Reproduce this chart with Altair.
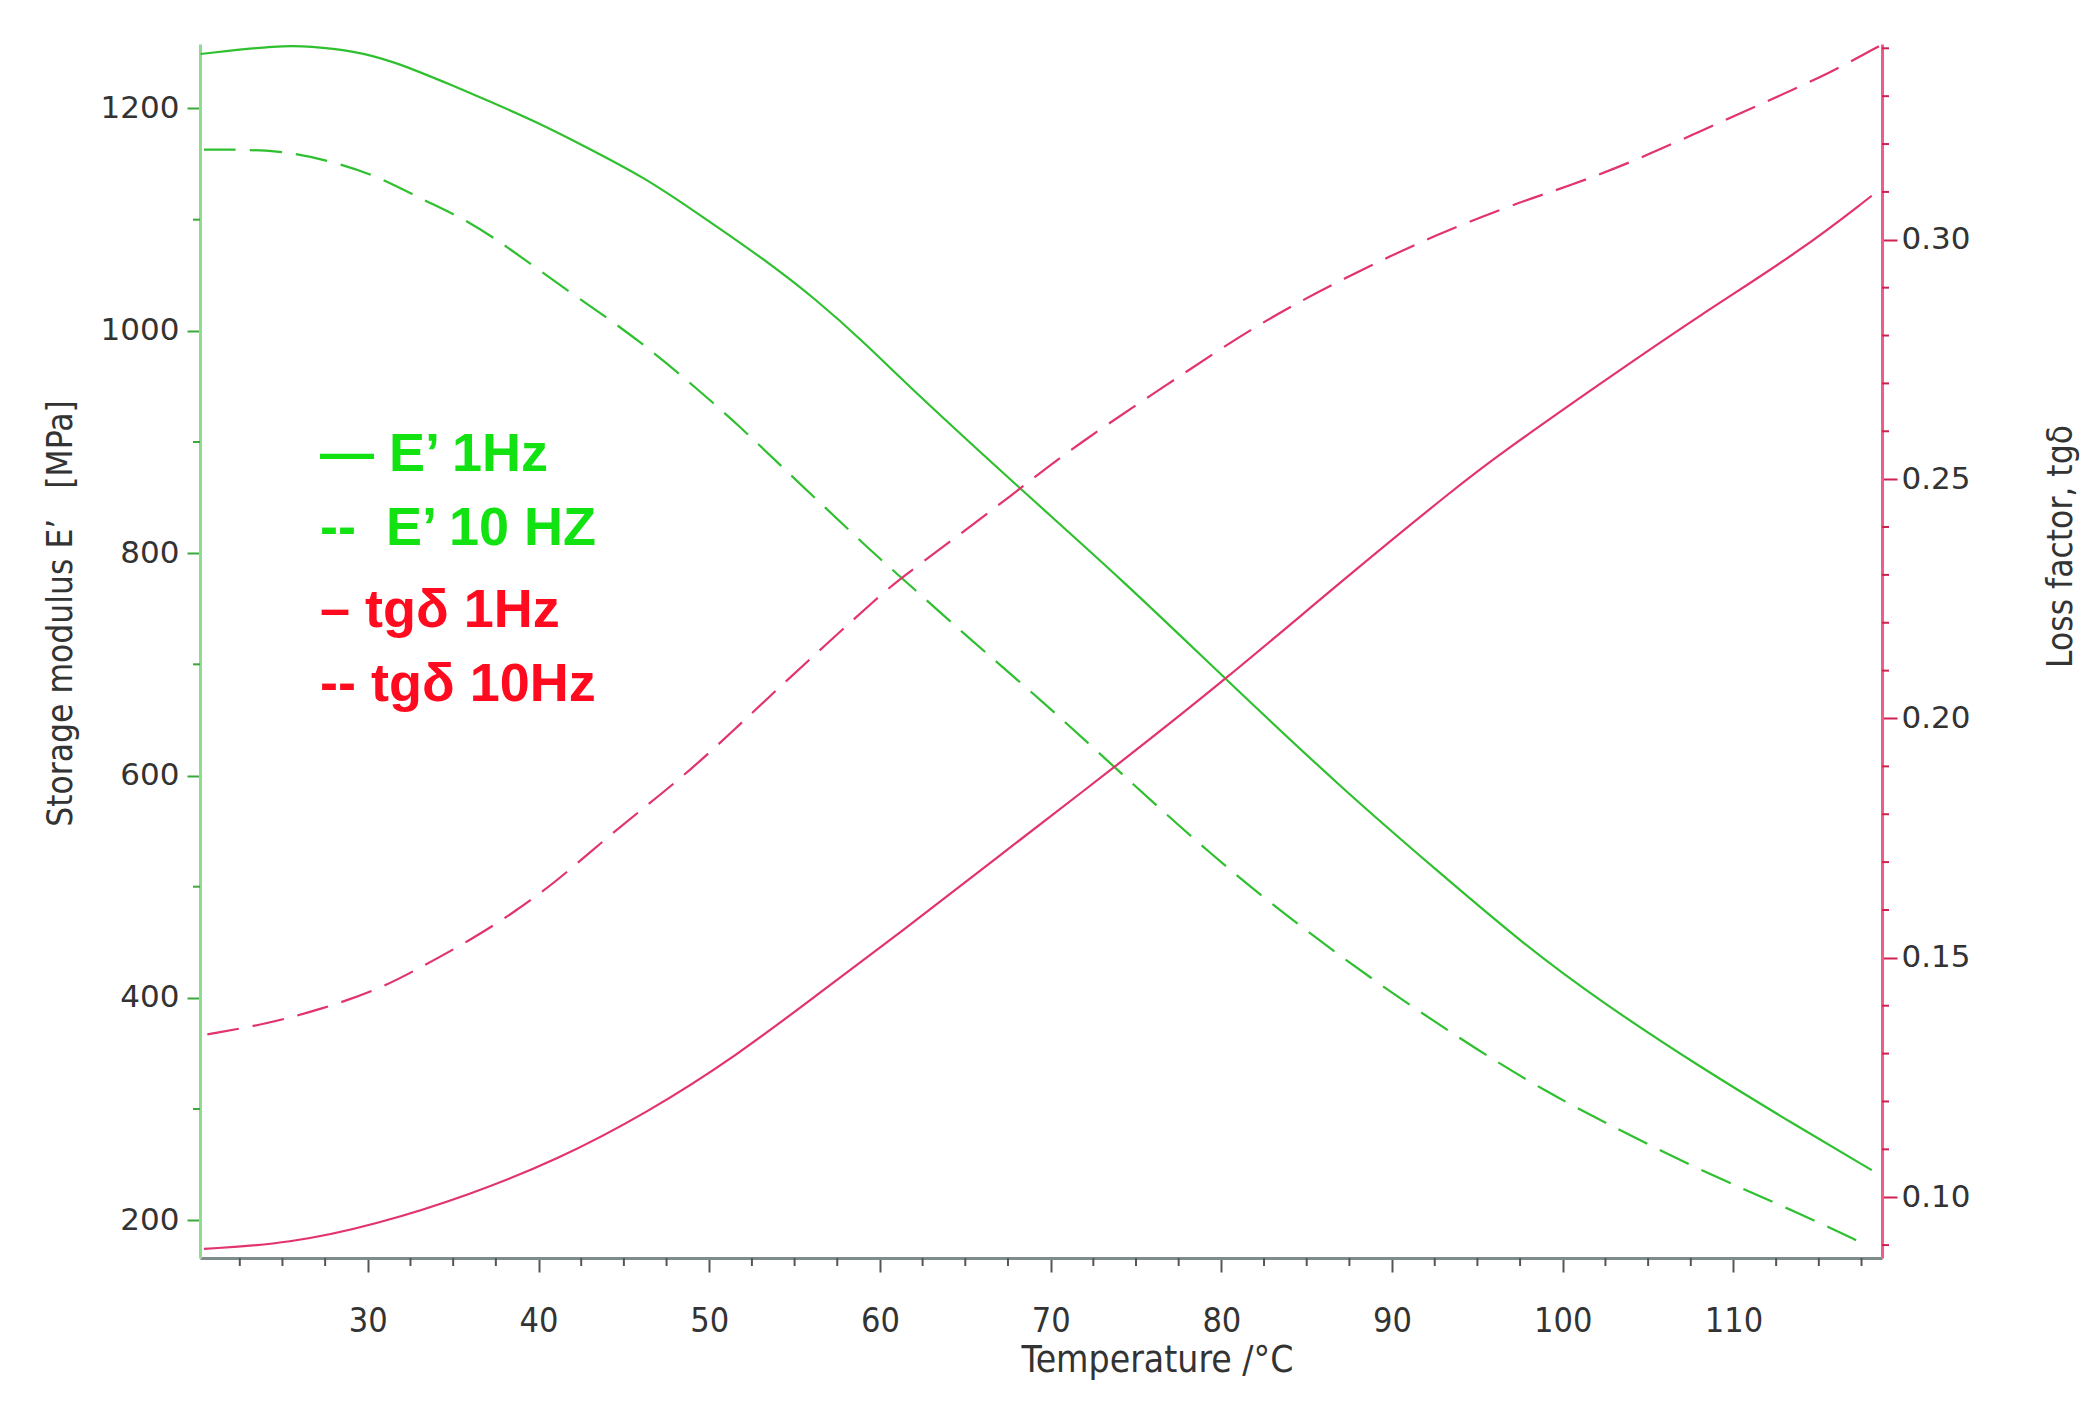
import altair as alt
import pandas as pd

# ---- data ----
e1_temp = [20.2, 24.9, 26.6, 29.1, 31.4, 34.3, 37.2, 40.0, 42.7, 46.3, 48.9, 52.9, 56.3, 59.4,
           61.2, 68.2, 74.2, 80.3, 87.3, 92.6, 97.8, 102.2, 108.0, 113.9, 118.1]
e1_val = [1249, 1257, 1256, 1252, 1243, 1225, 1206, 1187, 1166, 1137, 1110, 1068, 1028, 985,
          957, 858, 776, 686, 585, 515, 447, 397, 338, 283, 245]

e10_temp = [20.4, 24.9, 28.0, 30.6, 33.2, 35.9, 38.5, 41.6, 44.2, 46.8, 49.2, 51.8, 54.1, 56.8,
            59.4, 61.7, 65.1, 69.8, 73.7, 79.5, 84.7, 89.9, 95.2, 99.1, 102.2, 108.0, 113.9, 117.6]
e10_val = [1163, 1163, 1152, 1139, 1118, 1099, 1072, 1037, 1010, 980, 949, 914, 880, 841,
           803, 772, 725, 663, 608, 527, 463, 405, 351, 315, 290, 245, 206, 179]

t1_temp = [20.4, 25.4, 30.6, 35.9, 41.1, 46.3, 51.6, 56.8, 61.2, 66.4, 73.7, 80.3, 87.3, 93.9,
           96.3, 102.2, 108.0, 113.9, 118.1]
t1_val = [0.0892, 0.0903, 0.0944, 0.1004, 0.1078, 0.1175, 0.1295, 0.1436, 0.1553, 0.1697,
          0.1897, 0.2083, 0.2295, 0.2487, 0.2552, 0.2700, 0.2842, 0.2976, 0.3092]

t10_temp = [20.6, 24.1, 27.2, 30.6, 33.2, 35.9, 38.5, 41.1, 43.7, 46.3, 48.9, 51.6, 54.1, 60.4,
            61.7, 66.4, 68.2, 71.6, 76.9, 82.1, 87.3, 92.6, 97.8, 100.2, 104.1, 108.0, 111.9,
            115.8, 118.6]
t10_val = [0.1340, 0.1362, 0.1392, 0.1433, 0.1482, 0.1535, 0.1593, 0.1661, 0.1742, 0.1817,
           0.1892, 0.1981, 0.2065, 0.2271, 0.2305, 0.2431, 0.2480, 0.2574, 0.2699, 0.2824,
           0.2922, 0.3012, 0.3083, 0.3110, 0.3163, 0.3226, 0.3288, 0.3351, 0.3406]

NB = "\u00a0"
legend_labels = ["— E’ 1Hz", "--" + NB * 2 + "E’ 10 HZ", "–" + NB + "tgδ 1Hz", "-- tgδ 10Hz"]
legend_kind = ["E", "E", "tg", "tg"]

x_major = [30, 40, 50, 60, 70, 80, 90, 100, 110]
x_minor = [22.5, 25, 27.5, 32.5, 35, 37.5, 42.5, 45, 47.5, 52.5, 55, 57.5, 62.5, 65, 67.5,
           72.5, 75, 77.5, 82.5, 85, 87.5, 92.5, 95, 97.5, 102.5, 105, 107.5, 112.5, 115, 117.5]
e_major = [200, 400, 600, 800, 1000, 1200]
e_minor = [300, 500, 700, 900, 1100]
t_major = [0.10, 0.15, 0.20, 0.25, 0.30]
t_minor = [0.09, 0.11, 0.12, 0.13, 0.14, 0.16, 0.17, 0.18, 0.19, 0.21, 0.22, 0.23, 0.24,
           0.26, 0.27, 0.28, 0.29, 0.31, 0.32, 0.33, 0.34]

# ---- styling ----
W, H = 1682, 1214
X_DOM = [20.17, 118.7]
E_DOM = [166, 1258]
T_DOM = [0.0873, 0.3409]
GREEN_LINE = "#2fc02f"
RED_LINE = "#e2336c"
GREEN_TXT = "#12e212"
RED_TXT = "#ff0a1e"
DASH = [32, 14]
INTERP = "basis"
LBL_FONT = "DejaVu Sans"
COND_FONT = "DejaVu Sans Condensed"

df_e1 = pd.DataFrame({"T": e1_temp, "E": e1_val})
df_e10 = pd.DataFrame({"T": e10_temp, "E": e10_val})
df_t1 = pd.DataFrame({"T": t1_temp, "tg": t1_val})
df_t10 = pd.DataFrame({"T": t10_temp, "tg": t10_val})
df_leg = pd.DataFrame({
    "label": legend_labels,
    "kind": legend_kind,
    "T": [27.2] * 4,
    "E": [874, 807, 734, 667],
})
df_xminor = pd.DataFrame({"T": x_minor})
df_eminor = pd.DataFrame({"E": e_minor})
df_tminor = pd.DataFrame({"tg": t_minor})

x_scale = alt.Scale(domain=X_DOM, nice=False, zero=False)
e_scale = alt.Scale(domain=E_DOM, nice=False, zero=False)
t_scale = alt.Scale(domain=T_DOM, nice=False, zero=False)

x_axis = alt.Axis(
    values=x_major,
    format="d",
    tickSize=14,
    tickColor="#555555",
    tickWidth=2,
    domainColor="#7f8c8c",
    domainWidth=3,
    labelFont=COND_FONT,
    labelFontSize=34,
    labelColor="#333333",
    labelPadding=32,
    title="Temperature /°C",
    titleFont=COND_FONT,
    titleFontSize=37,
    titleFontWeight="normal",
    titleColor="#333333",
    titleX=957,
    titleY=102,
    titleAlign="center",
    titleBaseline="middle",
    grid=False,
)

e_axis = alt.Axis(
    values=e_major,
    format="d",
    tickSize=13,
    tickColor="#3aa83a",
    tickWidth=2,
    domainColor="#8fdc8f",
    domainWidth=3,
    labelFont=LBL_FONT,
    labelFontSize=31,
    labelColor="#333333",
    labelPadding=8,
    title="Storage modulus E’" + NB * 3 + "[MPa]",
    titleFont=COND_FONT,
    titleFontSize=35,
    titleFontWeight="normal",
    titleColor="#333333",
    titleAngle=270,
    titleX=-140,
    titleY=569,
    titleAlign="center",
    titleBaseline="middle",
    grid=False,
)

t_axis = alt.Axis(
    orient="right",
    values=t_major,
    format=".2f",
    tickSize=15,
    tickColor="#d0204f",
    tickWidth=2,
    domainColor="#ee5c8c",
    domainWidth=3,
    labelFont=LBL_FONT,
    labelFontSize=31,
    labelColor="#333333",
    labelPadding=4,
    title="Loss factor, tgδ",
    titleFont=COND_FONT,
    titleFontSize=35,
    titleFontWeight="normal",
    titleColor="#333333",
    titleAngle=270,
    titleX=178,
    titleY=502,
    titleAlign="center",
    titleBaseline="middle",
    grid=False,
)

e1 = alt.Chart(df_e1).mark_line(color=GREEN_LINE, strokeWidth=2.2, interpolate=INTERP).encode(
    x=alt.X("T:Q", scale=x_scale, axis=x_axis),
    y=alt.Y("E:Q", scale=e_scale, axis=e_axis),
)
e10 = alt.Chart(df_e10).mark_line(color=GREEN_LINE, strokeWidth=2.2, strokeDash=DASH,
                                  interpolate=INTERP).encode(
    x=alt.X("T:Q", scale=x_scale),
    y=alt.Y("E:Q", scale=e_scale),
)
legend = alt.Chart(df_leg).mark_text(
    align="left", baseline="alphabetic", font="Liberation Sans", fontSize=54, fontWeight="bold"
).encode(
    x=alt.X("T:Q", scale=x_scale),
    y=alt.Y("E:Q", scale=e_scale),
    text="label:N",
    color=alt.Color("kind:N", scale=alt.Scale(domain=["E", "tg"], range=[GREEN_TXT, RED_TXT]),
                    legend=None),
)
e_minor_ticks = alt.Chart(df_eminor).mark_rule(color="#3aa83a", strokeWidth=2).encode(
    y=alt.Y("E:Q", scale=e_scale),
    x=alt.value(0),
    x2=alt.value(-7),
)
x_minor_ticks = alt.Chart(df_xminor).mark_rule(color="#555555", strokeWidth=2).encode(
    x=alt.X("T:Q", scale=x_scale),
    y=alt.value(H),
    y2=alt.value(H + 8),
)

t1 = alt.Chart(df_t1).mark_line(color=RED_LINE, strokeWidth=2.2, interpolate=INTERP).encode(
    x=alt.X("T:Q", scale=x_scale),
    y=alt.Y("tg:Q", scale=t_scale, axis=t_axis),
)
t10 = alt.Chart(df_t10).mark_line(color=RED_LINE, strokeWidth=2.2, strokeDash=DASH,
                                  interpolate=INTERP).encode(
    x=alt.X("T:Q", scale=x_scale),
    y=alt.Y("tg:Q", scale=t_scale),
)
t_minor_ticks = alt.Chart(df_tminor).mark_rule(color="#d0204f", strokeWidth=2).encode(
    y=alt.Y("tg:Q", scale=t_scale),
    x=alt.value(W),
    x2=alt.value(W + 7),
)

left = alt.layer(e1, e10, legend, e_minor_ticks, x_minor_ticks)
right = alt.layer(t1, t10, t_minor_ticks)

chart = alt.layer(left, right).resolve_scale(y="independent").properties(
    width=W,
    height=H,
    padding={"left": 35, "top": 33, "right": 10, "bottom": 10},
    background="white",
).configure_view(stroke=None)

chart.save("out.html", embed_options={"renderer": "svg", "actions": False})
